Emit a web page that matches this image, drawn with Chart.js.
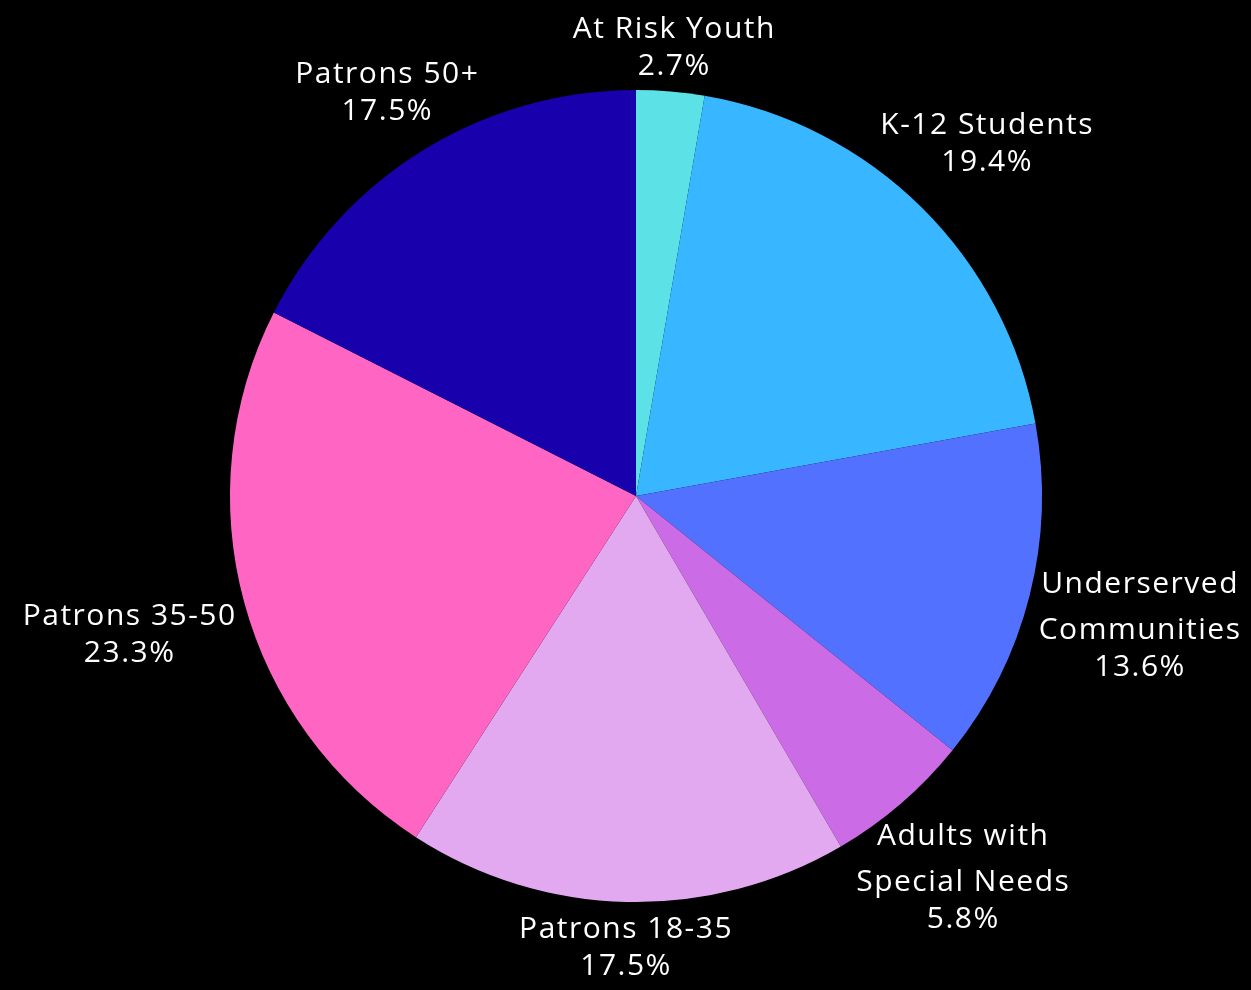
<!doctype html>
<html lang="en">
    <head>
        <meta charset="UTF-8" />
        <title>Audience share</title>
        <style>
            html, body { margin: 0; padding: 0; background: #000; }
            #wrap { width: 1251px; height: 990px; }
        </style>
    </head>
    <body>
        <div id="wrap"><canvas id="pieChart"></canvas></div>

        <script src="https://cdn.jsdelivr.net/npm/chart.js"></script>
        <script>
            // slices, clockwise from 12 o'clock
            const categories = [
                "At Risk Youth",
                "K-12 Students",
                ["Underserved", "Communities"],
                ["Adults with", "Special Needs"],
                "Patrons 18-35",
                "Patrons 35-50",
                "Patrons 50+",
            ];
            const shares = [2.7, 19.4, 13.6, 5.8, 17.5, 23.3, 17.5];
            const sliceColors = ["#5ce1e6", "#38b6ff", "#5271ff", "#cb6ce6", "#e2a9f1", "#ff66c4", "#1800ad"];

            const CAP = 21;       // cap height of label text
            const NAME_GAP = 46;  // between wrapped name lines
            const PCT_GAP = 37;   // name -> percentage line

            // labels outside the pie, pushed out so the text box clears the rim
            const outerLabels = {
                id: "outerLabels",
                afterDatasetsDraw(chart) {
                    const ctx = chart.ctx;
                    const meta = chart.getDatasetMeta(0);
                    ctx.save();
                    ctx.fillStyle = "#ffffff";
                    ctx.font = '30px "Open Sans"';
                    ctx.letterSpacing = "1.5px";
                    ctx.textAlign = "center";
                    ctx.textBaseline = "alphabetic";
                    meta.data.forEach((arc, i) => {
                        const p = arc.getProps(["x", "y", "startAngle", "endAngle", "outerRadius"], true);
                        const mid = (p.startAngle + p.endAngle) / 2;
                        const name = [].concat(categories[i]);
                        const pct = shares[i].toFixed(1) + "%";
                        const w = Math.max(...name.concat(pct).map((l) => ctx.measureText(l).width));
                        const h = CAP + NAME_GAP * (name.length - 1) + PCT_GAP;
                        const dx = Math.cos(mid), dy = Math.sin(mid);
                        const d = p.outerRadius + 15 + Math.hypot((dx * w) / 2, (dy * h) / 2);
                        const bx = p.x + dx * d;
                        const by = p.y + dy * d;
                        const base = by - h / 2 + CAP;
                        name.forEach((l, k) => ctx.fillText(l, bx, base + k * NAME_GAP));
                        ctx.fillText(pct, bx, base + (name.length - 1) * NAME_GAP + PCT_GAP);
                    });
                    ctx.restore();
                },
            };

            new Chart(document.getElementById("pieChart"), {
                type: "pie",
                data: {
                    labels: categories,
                    datasets: [
                        {
                            data: shares,
                            backgroundColor: sliceColors,
                            borderWidth: 0,
                        },
                    ],
                },
                options: {
                    responsive: true,
                    maintainAspectRatio: false,
                    animation: false,
                    layout: { padding: { top: 90, bottom: 88, left: 21, right: 0 } },
                    plugins: {
                        legend: { display: false },
                        tooltip: { enabled: false },
                    },
                },
                plugins: [outerLabels],
            });
        </script>
    </body>
</html>
